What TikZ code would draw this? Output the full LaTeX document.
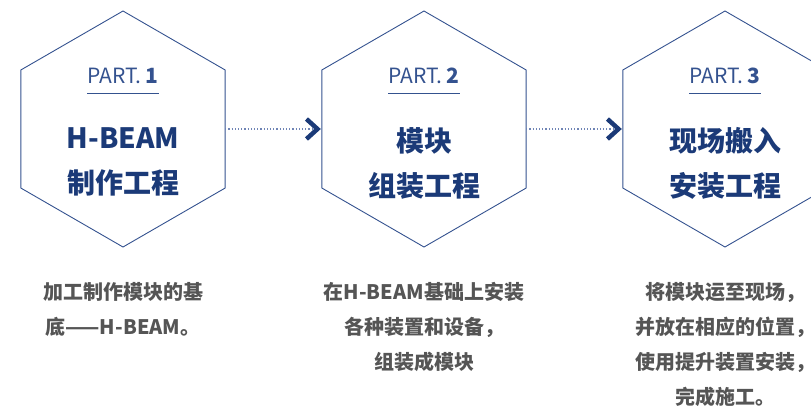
\documentclass[tikz,border=0pt]{standalone}
\usepackage{fontspec}
\setmainfont{Noto Sans CJK SC}
\usetikzlibrary{shapes.geometric,arrows.meta,calc}
\definecolor{hexblue}{HTML}{34528F}
\definecolor{titlenavy}{HTML}{1B3A78}
\definecolor{dotblue}{HTML}{6F84B5}
\definecolor{descgray}{HTML}{555555}
\tikzset{
  hexcell/.style={regular polygon, regular polygon sides=6, shape border rotate=30,
    minimum size=236pt, inner sep=0pt, outer sep=0pt, draw=hexblue, line width=0.9pt},
  partlabel/.style={inner sep=0pt, anchor=base, text=hexblue, font=\fontsize{21}{24}\selectfont},
  titletext/.style={inner sep=0pt, anchor=north, align=center, text=titlenavy,
    font=\fontsize{28}{45}\selectfont\bfseries},
  desctext/.style={inner sep=0pt, anchor=north, align=center, text=descgray,
    font=\fontsize{20}{35}\selectfont\bfseries},
  flowlink/.style={dotted, line width=1.2pt, draw=dotblue, shorten >=1pt,
    -{Straight Barb[length=11pt, width=20pt, line width=4.5pt, color=titlenavy]}},
}
\begin{document}
\begin{tikzpicture}[x=1pt,y=-1pt]
    \useasboundingbox (0,0) rectangle (811,405);
    % hexagons
    \node [hexcell] (hexa) at (123,129) {};
    \node [hexcell] (hexb) at (424,129) {};
    \node [hexcell] (hexc) at (725,129) {};
    % part labels
    \node [partlabel] (parta) at (123,83.3) {PART. \textbf{1}};
    \node [partlabel] (partb) at (424,83.3) {PART. \textbf{2}};
    \node [partlabel] (partc) at (725,83.3) {PART. \textbf{3}};
    \draw [hexblue, line width=0.9pt] ($(parta.base west)+(0,10)$) -- ($(parta.base east)+(0,10)$);
    \draw [hexblue, line width=0.9pt] ($(partb.base west)+(0,10)$) -- ($(partb.base east)+(0,10)$);
    \draw [hexblue, line width=0.9pt] ($(partc.base west)+(0,10)$) -- ($(partc.base east)+(0,10)$);
    % titles
    \node [titletext] (titlea) at (123,127) {H-BEAM\\制作工程};
    \node [titletext] (titleb) at (424,127) {模块\\组装工程};
    \node [titletext] (titlec) at (725,127) {现场搬入\\安装工程};
    % links
    \draw [flowlink] (hexa.east) -- (hexb.west);
    \draw [flowlink] (hexb.east) -- (hexc.west);
    % descriptions
    \node [desctext] (desca) at (123,282) {加工制作模块的基\\底——H-BEAM。};
    \node [desctext] (descb) at (424,282) {在H-BEAM基础上安装\\各种装置和设备，\\组装成模块};
    \node [desctext] (descc) at (725,282) {将模块运至现场，\\并放在相应的位置，\\使用提升装置安装，\\完成施工。};
\end{tikzpicture}
\end{document}
